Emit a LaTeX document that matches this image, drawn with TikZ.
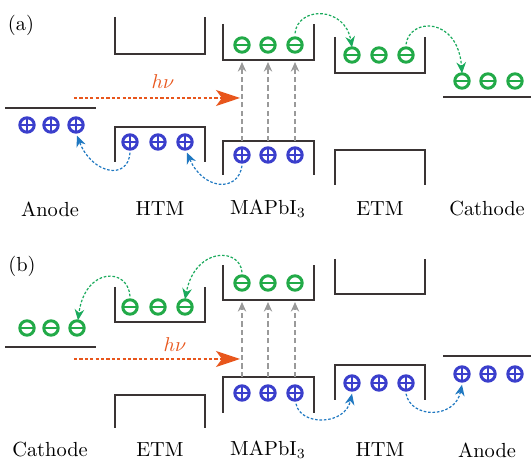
\documentclass[tikz,border=0pt]{standalone}
\usetikzlibrary{arrows.meta}
\definecolor{holeblue}{HTML}{3B3FCC}
\definecolor{elecgreen}{HTML}{22AA48}
\definecolor{hopblue}{HTML}{1F78C1}
\definecolor{hopgreen}{HTML}{1AAA5C}
\definecolor{photon}{HTML}{E8561C}
\definecolor{levelline}{HTML}{3A3434}
\definecolor{excite}{HTML}{9A9A9A}
\tikzset{
  carrier/.style={circle, line width=1.5pt, minimum size=7.2pt, inner sep=0pt},
  hole/.style={carrier, draw=holeblue,
    path picture={\draw[holeblue, line width=1.15pt]
      (path picture bounding box.west) -- (path picture bounding box.east)
      (path picture bounding box.north) -- (path picture bounding box.south);}},
  electron/.style={carrier, draw=elecgreen,
    path picture={\draw[elecgreen, line width=1.15pt]
      (path picture bounding box.west) -- (path picture bounding box.east);}},
  level/.style={draw=levelline, line width=0.75pt},
  layername/.style={font=\fontsize{10.2}{12}\selectfont, inner sep=0pt},
  panel/.style={font=\fontsize{10.2}{12}\selectfont, inner sep=0pt},
  hopb/.style={hopblue, line width=0.6pt, dash pattern=on 1.3pt off 0.9pt,
    -{Stealth[length=5.5pt, width=4.8pt]}},
  hopg/.style={hopgreen, line width=0.6pt, dash pattern=on 1.3pt off 0.9pt,
    -{Stealth[length=5.5pt, width=4.8pt]}},
  exc/.style={excite, line width=0.75pt, dash pattern=on 2.6pt off 1.6pt,
    -{Stealth[length=4.8pt, width=4.2pt]}},
  light/.style={photon, line width=0.6pt, dash pattern=on 1.6pt off 1.1pt,
    -{Stealth[length=12pt, width=8pt, inset=3pt]}},
  lightlabel/.style={text=photon, font=\fontsize{10.2}{12}\selectfont, inner sep=0pt}
}
\begin{document}
\begin{tikzpicture}[x={(0.5pt,0)}, y={(0,-0.5pt)}]
\useasboundingbox (0,0) rectangle (531,459);

% ---------------- panel (a) ----------------
\node[panel] (pa) at (21,25) {(a)};

% energy levels
\draw[level] (5,108) -- (96,108);
\draw[level] (115,17) -- (115,54) -- (205,54) -- (205,17);
\draw[level] (115,162) -- (115,127) -- (205,127) -- (205,162);
\draw[level] (223,24) -- (223,60) -- (314,60) -- (314,24);
\draw[level] (223,175) -- (223,141) -- (314,141) -- (314,175);
\draw[level] (335,37) -- (335,73) -- (425,73) -- (425,37);
\draw[level] (335,185) -- (335,150) -- (425,150) -- (425,185);
\draw[level] (443,97) -- (531,97);

% carriers
\node[hole] (a-an1) at (27,125) {};
\node[hole] (a-an2) at (51,125) {};
\node[hole] (a-an3) at (76,125) {};
\node[hole] (a-h1) at (130,142) {};
\node[hole] (a-h2) at (158,142) {};
\node[hole] (a-h3) at (185,142) {};
\node[electron] (a-me1) at (242,45) {};
\node[electron] (a-me2) at (268,45) {};
\node[electron] (a-me3) at (295,45) {};
\node[hole] (a-mh1) at (242,155) {};
\node[hole] (a-mh2) at (268,155) {};
\node[hole] (a-mh3) at (295,155) {};
\node[electron] (a-e1) at (352,55) {};
\node[electron] (a-e2) at (379,55) {};
\node[electron] (a-e3) at (406,55) {};
\node[electron] (a-c1) at (462,81) {};
\node[electron] (a-c2) at (488,81) {};
\node[electron] (a-c3) at (515,81) {};

% excitation
\foreach \x [count=\i] in {242,268,295}{
  \coordinate (a-vb\i) at (\x,141);
  \coordinate (a-cb\i) at (\x,62);
  \draw[exc] (a-vb\i) -- (a-cb\i);
}
\coordinate (a-ls) at (74,98);
\coordinate (a-le) at (240,98);
\draw[light] (a-ls) -- (a-le);
\node[lightlabel] (a-hv) at (163,82) {$h\nu$};

% charge transfer
\draw[hopg] ([yshift=1.5pt]a-me3.north) .. controls (298,6) and (345,6) .. ([yshift=-0.5pt]a-e1.north);
\draw[hopg] ([yshift=1pt]a-e3.north) .. controls (410,17) and (458,17) .. ([yshift=-0.5pt]a-c1.north);
\draw[hopb] ([yshift=-1pt]a-h1.south) .. controls (128,181) and (92,174) .. ([xshift=0.5pt,yshift=-1pt]a-an3.south);
\draw[hopb] ([yshift=-1pt]a-mh1.south) .. controls (238,193) and (203,190) .. ([xshift=1pt,yshift=-1pt]a-h3.south);

% layer names
\node[layername] (a-t1) at (50,209) {Anode};
\node[layername] (a-t2) at (160,209) {HTM};
\node[layername] (a-t3) at (268,209) {MAPbI$_3$};
\node[layername] (a-t4) at (380,209) {ETM};
\node[layername] (a-t5) at (487,209) {Cathode};

% ---------------- panel (b) ----------------
\node[panel] (pb) at (22,266) {(b)};

\draw[level] (5,347) -- (96,347);
\draw[level] (115,287) -- (115,322) -- (205,322) -- (205,287);
\draw[level] (115,428) -- (115,395) -- (205,395) -- (205,428);
\draw[level] (223,265) -- (223,300) -- (314,300) -- (314,265);
\draw[level] (223,413) -- (223,377) -- (314,377) -- (314,413);
\draw[level] (335,259) -- (335,294) -- (425,294) -- (425,259);
\draw[level] (335,400) -- (335,365) -- (425,365) -- (425,400);
\draw[level] (443,356) -- (531,356);

\node[electron] (b-c1) at (27,328) {};
\node[electron] (b-c2) at (51,328) {};
\node[electron] (b-c3) at (77,328) {};
\node[electron] (b-e1) at (130,307) {};
\node[electron] (b-e2) at (158,307) {};
\node[electron] (b-e3) at (185,307) {};
\node[electron] (b-me1) at (242,283) {};
\node[electron] (b-me2) at (268,283) {};
\node[electron] (b-me3) at (295,283) {};
\node[hole] (b-mh1) at (242,393) {};
\node[hole] (b-mh2) at (268,393) {};
\node[hole] (b-mh3) at (295,393) {};
\node[hole] (b-h1) at (352,383) {};
\node[hole] (b-h2) at (379,383) {};
\node[hole] (b-h3) at (406,383) {};
\node[hole] (b-an1) at (462,374) {};
\node[hole] (b-an2) at (488,374) {};
\node[hole] (b-an3) at (515,374) {};

\foreach \x [count=\i] in {242,268,295}{
  \coordinate (b-vb\i) at (\x,377);
  \coordinate (b-cb\i) at (\x,302);
  \draw[exc] (b-vb\i) -- (b-cb\i);
}
\coordinate (b-ls) at (74,359);
\coordinate (b-le) at (240,359);
\draw[light] (b-ls) -- (b-le);
\node[lightlabel] (b-hv) at (175,345) {$h\nu$};

\draw[hopg] ([yshift=1pt]b-e1.north) .. controls (128,267) and (85,267) .. ([xshift=0.5pt,yshift=-0.5pt]b-c3.north);
\draw[hopg] ([yshift=1pt]b-me1.north) .. controls (240,247) and (195,247) .. ([yshift=-0.5pt]b-e3.north);
\draw[hopb] ([xshift=0.5pt,yshift=-1pt]b-mh3.south) .. controls (300,426) and (345,426) .. ([yshift=-1pt]b-h1.south);
\draw[hopb] ([yshift=-1pt]b-h3.south) .. controls (411,419) and (455,419) .. ([yshift=-1pt]b-an1.south);

\node[layername] (b-t1) at (50,450) {Cathode};
\node[layername] (b-t2) at (160,450) {ETM};
\node[layername] (b-t3) at (268,450) {MAPbI$_3$};
\node[layername] (b-t4) at (380,450) {HTM};
\node[layername] (b-t5) at (487,450) {Anode};
\end{tikzpicture}
\end{document}
